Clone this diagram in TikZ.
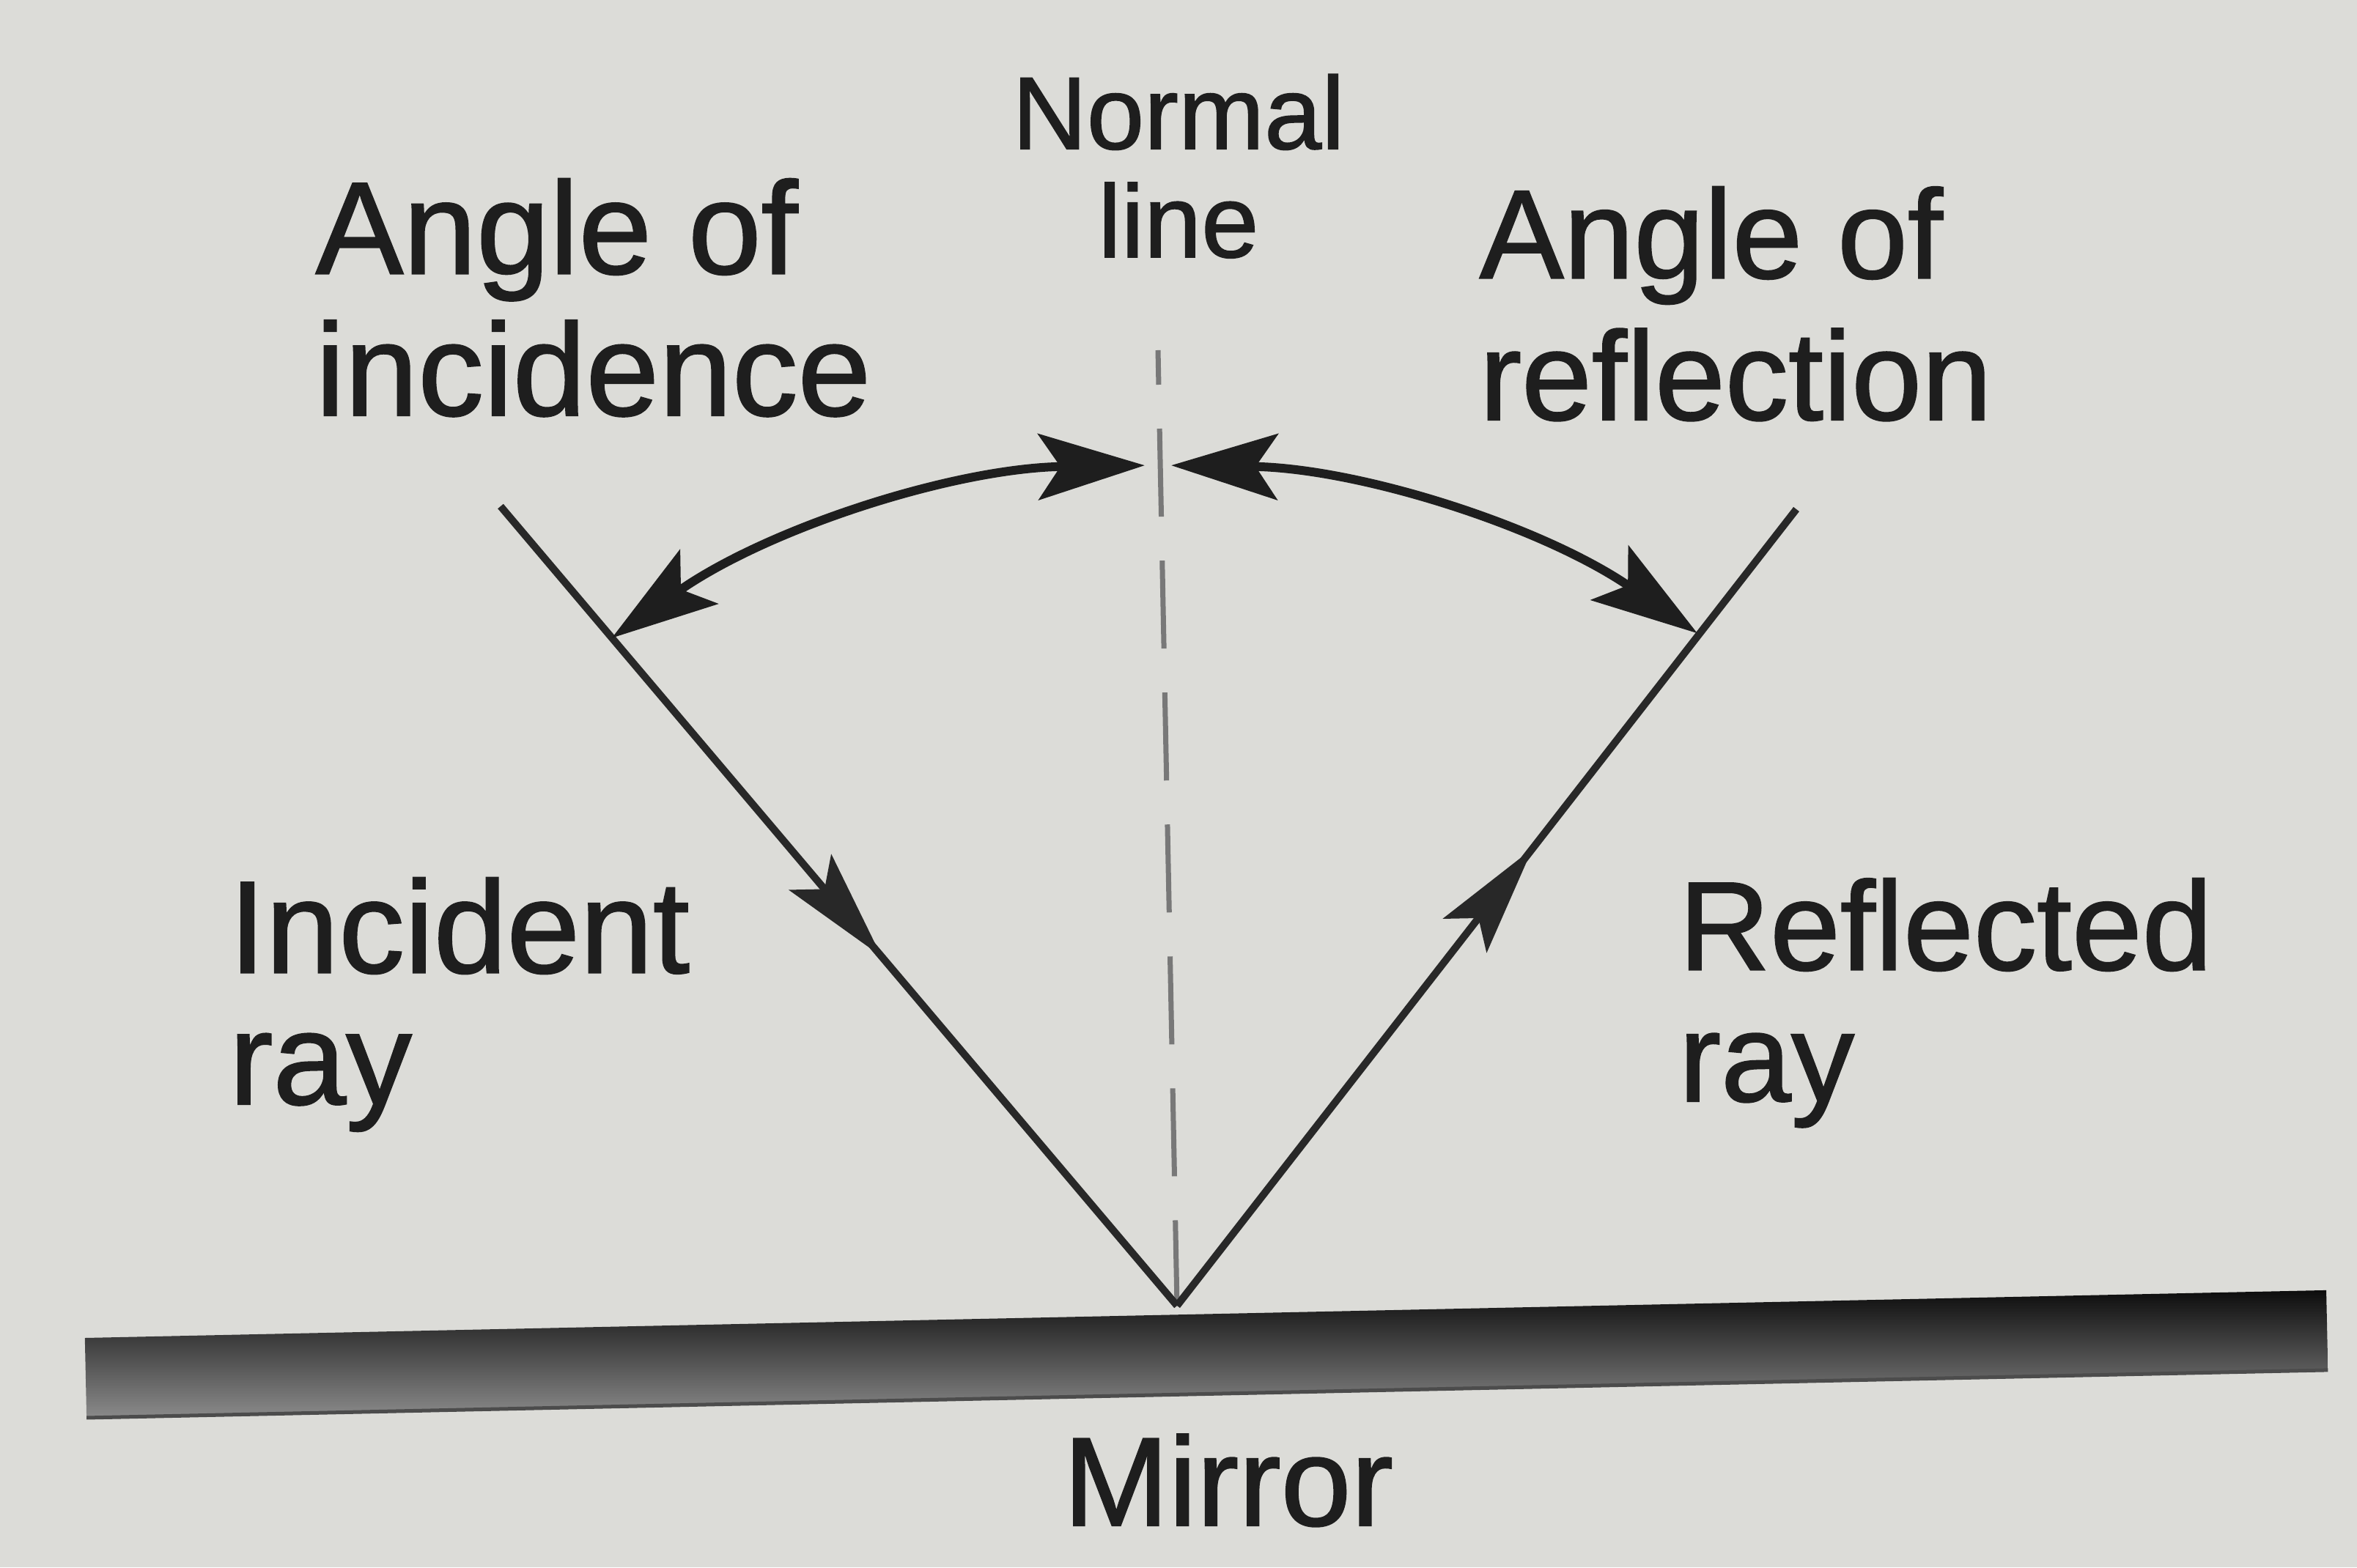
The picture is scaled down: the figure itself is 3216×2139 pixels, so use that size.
\documentclass[tikz,border=0pt]{standalone}
\usepackage{fontspec}
\setmainfont{Liberation Sans}
\newfontfamily\labelfont{Liberation Sans}[FakeBold=1.2]
\usetikzlibrary{arrows.meta,decorations.markings}
\definecolor{paper}{RGB}{220,220,216}
\definecolor{ink}{RGB}{30,30,30}
\definecolor{rayc}{RGB}{40,40,40}
\definecolor{normc}{RGB}{120,120,120}
\begin{document}
\begin{tikzpicture}[x=0.01cm,y=0.01cm,
  lbl/.style={font=\labelfont\fontsize{#1}{55}\selectfont, text=ink, inner sep=0pt, align=left, anchor=base west},
  lbltwo/.style={font=\labelfont\fontsize{#1}{51}\selectfont, text=ink, inner sep=0pt, align=left, anchor=base west},
  nlbl/.style={font=\labelfont\fontsize{40}{42}\selectfont, text=ink, inner sep=0pt, align=center, anchor=base},
  mlbl/.style={font=\labelfont\fontsize{49}{50}\selectfont, text=ink, inner sep=0pt, anchor=base},
  raytip/.tip={Stealth[length=1.5cm,width=0.75cm,inset=0.3cm]},
  arctip/.tip={Stealth[length=1.45cm,width=0.9cm,inset=0.3cm]},
  ray/.style={draw=rayc, line width=0.1cm},
  anglearc/.style={draw=ink, line width=0.12cm, {arctip}-{arctip}},
  normalline/.style={draw=normc, line width=0.07cm, dash pattern=on 1.2cm off 0.6cm, dash phase=0.73cm}
]
\fill[paper] (0,0) rectangle (3216,2139);
\useasboundingbox (0,0) rectangle (3216,2139);

% key points
\coordinate (V) at (1606,357);
\coordinate (I) at (683,1448);
\coordinate (R) at (2451,1444);
\coordinate (N) at (1580,1661);
\coordinate (C) at (1580,208);

% mirror
\begin{scope}[rotate around={1.22:(117,257)}]
  \shade[top color=black!95, bottom color=black!45] (117,202) rectangle (3176,313);
  \draw[black!70, line width=0.05cm] (117,204) -- (3176,204);
\end{scope}

% normal line
\draw[normalline] (N) -- (V);

% rays
\draw[ray, postaction={decorate},
  decoration={markings, mark=at position 0.563 with {\arrow{raytip}}}] (I) -- (V);
\draw[ray, postaction={decorate},
  decoration={markings, mark=at position 0.574 with {\arrow{raytip}}}] (V) -- (R);

% angle arcs
\draw[anglearc] ([shift={(90.8:1296)}]C) arc[start angle=90.8, end angle=125.1, radius=1296];
\draw[anglearc] ([shift={(89.2:1296)}]C) arc[start angle=89.2, end angle=55.4, radius=1296];

% labels (base anchor = baseline of last line)
\node[lbl=51] (aoi) at (430,1572) {Angle of\\incidence};
\node[lbl=49] (aor) at (2018,1566) {Angle of\\reflection};
\node[nlbl] (nl) at (1608,1788) {Normal\\line};
\node[lbltwo=51] (inc) at (312,632) {Incident\\ray};
\node[lbltwo=49] (ref) at (2290,636) {Reflected\\ray};
\node[mlbl] (mir) at (1676,57) {Mirror};
\end{tikzpicture}
\end{document}
